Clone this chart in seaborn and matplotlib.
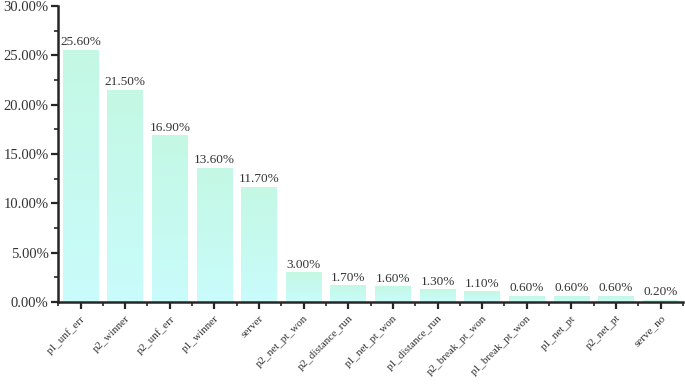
import numpy as np
import matplotlib
matplotlib.use("Agg")
import matplotlib.pyplot as plt
import seaborn as sns
from matplotlib.ticker import MultipleLocator, FuncFormatter
from matplotlib.colors import LinearSegmentedColormap

features = ["p1_unf_err", "p2_winner", "p2_unf_err", "p1_winner", "server",
            "p2_net_pt_won", "p2_distance_run", "p1_net_pt_won", "p1_distance_run",
            "p2_break_pt_won", "p1_break_pt_won", "p1_net_pt", "p2_net_pt", "serve_no"]
importance = [25.6, 21.5, 16.9, 13.6, 11.7, 3.0, 1.7, 1.6, 1.3, 1.1, 0.6, 0.6, 0.6, 0.2]

sns.set_style("ticks")
plt.rcParams['font.family'] = ['Liberation Serif', 'DejaVu Serif']

fig = plt.figure(figsize=(6.85, 3.85), dpi=100)
ax = fig.add_axes([0.085, 0.216, 0.912, 0.768])

sns.barplot(x=features, y=importance, ax=ax, color="#c8f9ee", width=0.8,
            saturation=1, edgecolor="none")

# vertical gradient inside each bar: mint at top, light cyan at bottom
cmap = LinearSegmentedColormap.from_list("mint", ["#c9fcfb", "#c4f8e4"])
grad = np.linspace(0, 1, 256).reshape(-1, 1)
for p in ax.patches:
    x0, w, h = p.get_x(), p.get_width(), p.get_height()
    im = ax.imshow(grad, extent=[x0, x0 + w, 0, h], origin="lower", cmap=cmap,
                   aspect="auto", zorder=p.get_zorder())
    im.set_clip_path(p)
    p.set_facecolor("none")
    ax.text(x0 + w / 2, h + 0.15, f"{h:.2f}%", ha="center", va="bottom",
            fontsize=9.5, color="#333333")

ax.set_xlim(-0.5, len(features) - 0.5)
ax.set_ylim(0, 30)
ax.yaxis.set_major_locator(MultipleLocator(5))
ax.yaxis.set_minor_locator(MultipleLocator(2.5))
ax.yaxis.set_major_formatter(FuncFormatter(lambda v, _: f"{v:.2f}%"))
ax.set_xticks(range(len(features)))
ax.set_xticks(np.arange(-0.5, len(features), 1), minor=True)
ax.set_xticklabels(features, rotation=45, ha="right", rotation_mode="anchor",
                   fontsize=8, color="#333333")
ax.tick_params(axis="y", labelsize=10.5, labelcolor="#333333", length=5, width=1.6, pad=2)
ax.tick_params(axis="y", which="minor", length=3, width=1.2)
ax.tick_params(axis="x", which="major", length=5, width=1.6)
ax.tick_params(axis="x", which="minor", length=3, width=1.2)
for s in ["left", "bottom"]:
    ax.spines[s].set_linewidth(1.8)
sns.despine(ax=ax)

fig.savefig("out.png", dpi=100)
